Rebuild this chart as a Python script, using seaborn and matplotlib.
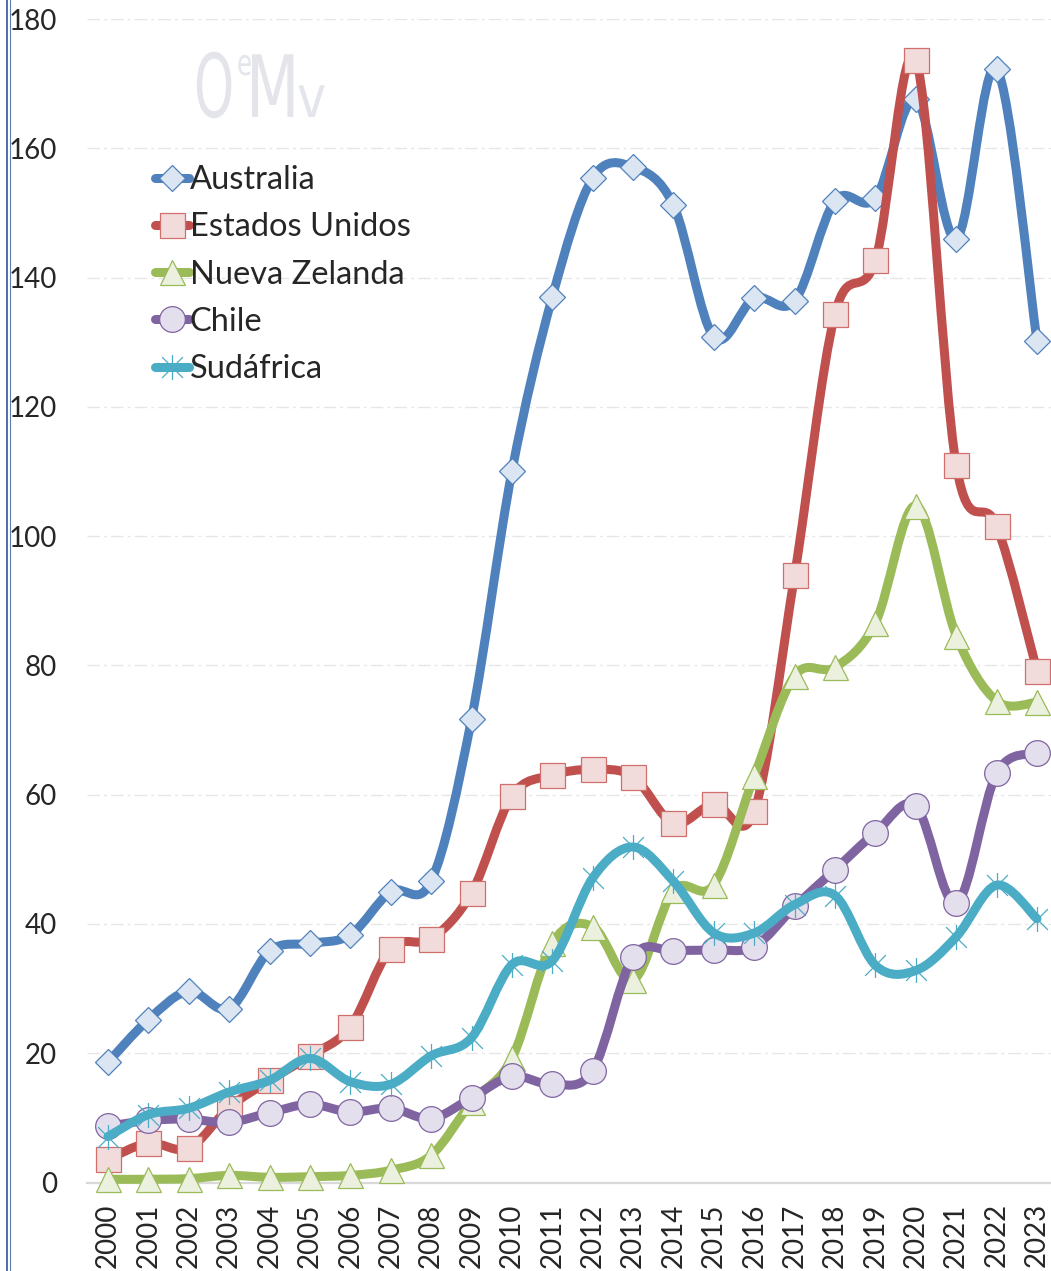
import numpy as np
import pandas as pd
import matplotlib
matplotlib.use("Agg")
import matplotlib.pyplot as plt
import seaborn as sns
from matplotlib.path import Path
from matplotlib.patches import PathPatch
from matplotlib.lines import Line2D
from matplotlib.textpath import TextPath
from matplotlib.font_manager import FontProperties
from matplotlib.transforms import Affine2D, IdentityTransform

###################################################################################
# data
###################################################################################
years = list(range(2000, 2024))

australia = [18.6, 25.2, 29.6, 26.9, 35.8, 37.0, 38.3, 45.0, 46.6, 71.7, 110.0, 137.0,
             155.4, 157.1, 151.2, 130.8, 136.8, 136.4, 151.9, 152.3, 167.6, 146.0, 172.3, 130.2]
estados_unidos = [3.6, 6.1, 5.3, 11.6, 15.8, 19.6, 24.1, 36.2, 37.7, 44.8, 59.8, 63.0,
                  63.9, 62.8, 55.6, 58.6, 57.4, 94.0, 134.4, 142.7, 173.7, 111.0, 101.6, 79.2]
nueva_zelanda = [0.5, 0.5, 0.6, 1.1, 0.8, 0.9, 1.1, 1.9, 4.2, 12.4, 19.2, 37.0,
                 39.6, 31.3, 45.2, 46.1, 62.9, 78.4, 79.7, 86.6, 104.7, 84.6, 74.5, 74.3]
chile = [8.7, 9.6, 9.8, 9.3, 10.8, 12.1, 10.9, 11.5, 9.9, 13.1, 16.4, 15.2,
         17.3, 34.9, 35.8, 36.0, 36.5, 42.7, 48.4, 54.1, 58.2, 43.2, 63.3, 66.4]
sudafrica = [7.1, 10.5, 11.5, 14.0, 15.8, 19.2, 15.6, 15.2, 19.6, 22.4, 33.7, 34.3,
             47.1, 51.9, 46.6, 38.6, 38.6, 43.0, 44.4, 33.6, 32.8, 38.0, 46.0, 40.8]

series_names = ["Australia", "Estados Unidos", "Nueva Zelanda", "Chile", "Sudáfrica"]
y_ticks = list(range(0, 181, 20))

df = pd.DataFrame({"year": years,
                   "Australia": australia,
                   "Estados Unidos": estados_unidos,
                   "Nueva Zelanda": nueva_zelanda,
                   "Chile": chile,
                   "Sudáfrica": sudafrica})

# asterisk marker (X plus vertical bar)
star = Path([(-1, -1), (1, 1), (-1, 1), (1, -1), (0, -1.2), (0, 1.2)],
            [Path.MOVETO, Path.LINETO, Path.MOVETO, Path.LINETO, Path.MOVETO, Path.LINETO])

styles = {
    "Australia": dict(line="#4f81bd", marker="D", ms=13, mfc="#dce6f2", mec="#4f81bd"),
    "Estados Unidos": dict(line="#c0504d", marker="s", ms=18, mfc="#f2dcdb", mec="#cf6e6b"),
    "Nueva Zelanda": dict(line="#9bbb59", marker="^", ms=18, mfc="#ebf1de", mec="#9bbb59"),
    "Chile": dict(line="#8064a2", marker="o", ms=18.5, mfc="#e4dfec", mec="#8064a2"),
    "Sudáfrica": dict(line="#4bacc6", marker=star, ms=18, mfc="none", mec="#4bacc6"),
}


def smooth_path(x, y):
    # bezier segments like the spreadsheet "smoothed line" option
    x = np.asarray(x, float)
    y = np.asarray(y, float)
    n = len(x)
    verts = [(x[0], y[0])]
    codes = [Path.MOVETO]
    for i in range(n - 1):
        a = max(i - 1, 0)
        b = min(i + 2, n - 1)
        c1 = (x[i] + (x[i + 1] - x[a]) / 6, y[i] + (y[i + 1] - y[a]) / 6)
        c2 = (x[i + 1] - (x[b] - x[i]) / 6, y[i + 1] - (y[b] - y[i]) / 6)
        verts += [c1, c2, (x[i + 1], y[i + 1])]
        codes += [Path.CURVE4] * 3
    return Path(verts, codes)


###################################################################################
# figure
###################################################################################
sns.set_style("white")
plt.rcParams["font.family"] = ["Lato", "DejaVu Sans"]

W, H = 1051, 1271
fig = plt.figure(figsize=(W / 100, H / 100), dpi=100)
ax_left, ax_right, ax_top, ax_bottom = 87, 1051, 19, 1182.5
ax = fig.add_axes([ax_left / W, (H - ax_bottom) / H, (ax_right - ax_left) / W, (ax_bottom - ax_top) / H])

handles = []
for k, name in enumerate(series_names):
    st = styles[name]
    z = 3 + k
    ax.add_patch(PathPatch(smooth_path(df["year"], df[name]), facecolor="none", edgecolor=st["line"],
                           lw=6.5, capstyle="round", joinstyle="round", zorder=z, clip_on=False))
    sns.lineplot(data=df, x="year", y=name, ax=ax, marker=st["marker"], markersize=st["ms"],
                 markerfacecolor=st["mfc"], markeredgecolor=st["mec"], markeredgewidth=0.9,
                 linestyle="none", lw=0, zorder=z + 0.5, clip_on=False)
    handles.append(Line2D([], [], color=st["line"], lw=6.5, solid_capstyle="round",
                          marker=st["marker"], markersize=st["ms"], markerfacecolor=st["mfc"],
                          markeredgecolor=st["mec"], markeredgewidth=0.9, label=name))

ax.set_xlim(1999.48, 2023 + 14 / 40.39)
ax.set_ylim(0, 180)
ax.set_xticks(years)
ax.set_xticklabels([str(y) for y in years], rotation=90, fontsize=20)
ax.set_yticks(y_ticks)
ax.set_yticklabels([str(v) for v in y_ticks], fontsize=20)
ax.tick_params(axis="x", length=0, pad=15)
ax.tick_params(axis="y", length=0, pad=21.5)
ax.set_xlabel("")
ax.set_ylabel("")

ax.yaxis.grid(True, color="#e6e6e6", lw=1, linestyle=(0, (9, 3, 2, 3)))
ax.xaxis.grid(False)
for s in ["top", "right", "left"]:
    ax.spines[s].set_visible(False)
ax.spines["bottom"].set_color("#d9d9d9")
ax.spines["bottom"].set_linewidth(1.6)
ax.set_axisbelow(True)

leg = ax.legend(handles=handles, loc="upper left", bbox_to_anchor=(155 / W, (H - 165) / H),
                bbox_transform=fig.transFigure, frameon=False, fontsize=23.5, handlelength=1.05,
                handletextpad=0.02, labelspacing=0.53, borderpad=0, borderaxespad=0, numpoints=1)

# faded logo in the corner
fp = FontProperties(family="DejaVu Sans")
logo_col = "#e3e5eb"
for s, x0, ybase, size, sx in [("O", 194, 117, 88, 0.58), ("e", 237, 75, 36, 0.68),
                               ("M", 246, 117, 86, 0.72), ("v", 297, 117, 58, 0.85)]:
    tp = TextPath((0, 0), s, size=size, prop=fp)
    tr = Affine2D().scale(sx, 1).translate(x0, H - ybase)
    fig.add_artist(PathPatch(tr.transform_path(tp), transform=IdentityTransform(),
                             facecolor=logo_col, edgecolor="none", zorder=1))

# double border on the left edge
fig.add_artist(Line2D([6.8 / W, 6.8 / W], [0, 1], transform=fig.transFigure, color="#3f649c", lw=1.3))
fig.add_artist(Line2D([9.9 / W, 9.9 / W], [0, 1], transform=fig.transFigure, color="#5a7cae", lw=0.8))

fig.savefig("out.png", dpi=100)
